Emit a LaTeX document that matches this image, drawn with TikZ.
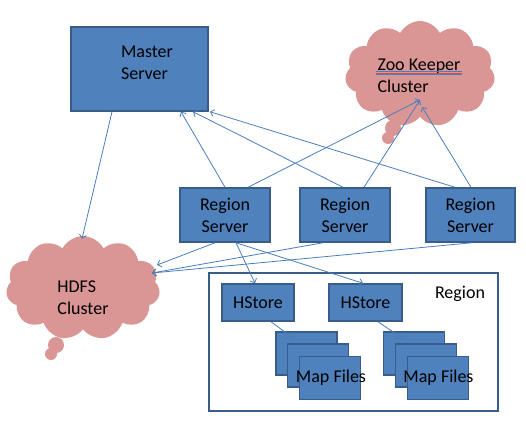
\documentclass[tikz,border=0pt]{standalone}
\usepackage{fontspec}
\setmainfont{Carlito}
\usetikzlibrary{shapes.symbols,shapes.misc,arrows.meta}
\definecolor{boxfill}{HTML}{4F81BD}
\definecolor{boxline}{HTML}{385D8A}
\definecolor{cloudfill}{HTML}{D99694}
\definecolor{arrowc}{HTML}{4A7EBB}
\definecolor{spellred}{HTML}{D05050}
\begin{document}
\begin{tikzpicture}[x=1pt,y=-1pt,
  box/.style={draw=boxline,line width=1.5pt,fill=boxfill,inner sep=0pt},
  mapfile/.style={chamfered rectangle,chamfered rectangle corners=north east,
    chamfered rectangle xsep=8pt,chamfered rectangle ysep=8pt,
    draw=boxline,line width=1.5pt,fill=boxfill,inner sep=0pt,
    minimum width=61pt,minimum height=43pt},
  cloudnode/.style={cloud,cloud puffs=11,cloud puff arc=125,aspect=1.5,
    fill=cloudfill,inner sep=0pt},
  arr/.style={draw=arrowc,line width=0.8pt,-{Straight Barb[length=3.5pt,width=7pt]}},
  txt/.style={font=\fontsize{18}{22}\selectfont,align=left,text=black,inner sep=0pt}]
\useasboundingbox (0,0) rectangle (526,423);

% clouds
\node[cloudnode,minimum width=154pt,minimum height=104pt] (hdfs) at (83,288) {};
\fill[cloudfill] (56,345) circle[radius=8];
\fill[cloudfill] (51,354) circle[radius=6];
\node[txt] (hdfstxt) at (83,298) {HDFS\\Cluster};

\node[cloudnode,minimum width=150pt,minimum height=106pt] (zk) at (420,74) {};
\fill[cloudfill] (393,128) circle[radius=8];
\fill[cloudfill] (388,138) circle[radius=6];
\node[txt] (zktxt) at (419,76) {Zoo Keeper\\Cluster};
\draw[arrowc,line width=0.7pt] (376,71.8) -- (462,71.8);
\draw[spellred,line width=0.5pt] (376,73) -- (462,73);
\draw[arrowc,line width=0.7pt] (376,74.3) -- (462,74.3);

% master
\node[box,minimum width=137pt,minimum height=84pt] (master) at (139.5,69) {};
\node[txt] (mastertxt) at (147,63) {Master\\Server};

% region servers
\node[box,txt,align=center,minimum width=90pt,minimum height=54pt] (rs1) at (225,215) {Region\\Server};
\node[box,txt,align=center,minimum width=90pt,minimum height=54pt] (rs2) at (345,215) {Region\\Server};
\node[box,txt,align=center,minimum width=89pt,minimum height=54pt] (rs3) at (470.5,215) {Region\\Server};

% region box
\node[draw=boxline,line width=1.5pt,inner sep=0pt,minimum width=289pt,minimum height=138pt] (region) at (353.5,342) {};
\node[txt] (regiontxt) at (460,294) {Region};

\node[box,txt,minimum width=72pt,minimum height=37pt] (hs1) at (258,302.5) {HStore};
\node[box,txt,minimum width=73pt,minimum height=37pt] (hs2) at (365.5,302.5) {HStore};

\node[mapfile] (mf1a) at (306.5,353.5) {};
\node[mapfile] (mf1b) at (318,365.5) {};
\node[mapfile] (mf1c) at (330,378) {};
\node[txt] (mf1txt) at (331,378) {Map Files};
\node[mapfile] (mf2a) at (414,353.5) {};
\node[mapfile] (mf2b) at (426,365.5) {};
\node[mapfile] (mf2c) at (438,378) {};
\node[txt] (mf2txt) at (438.5,378) {Map Files};

% connectors
\draw[arr] ([xshift=-27.5pt]master.south) -- ([xshift=-1pt,yshift=-3pt]hdfs.north);
\draw[arr] (rs1.north) -- ([xshift=41.5pt]master.south);
\draw[arr] ([xshift=-2pt]rs2.north) -- ([xshift=53.5pt]master.south);
\draw[arr] ([xshift=-15.5pt]rs3.north) -- ([xshift=70.5pt]master.south);
\draw[arr] ([xshift=23pt]rs1.north) -- ([xshift=0pt,yshift=-26pt]zk.center);
\draw[arr] ([xshift=19pt]rs2.north) -- ([xshift=0pt,yshift=-26pt]zk.center);
\draw[arr] ([xshift=0.5pt]rs3.north) -- ([xshift=2pt,yshift=-33pt]zk.center);
\draw[arr] ([xshift=-10pt]rs1.south) -- ([xshift=74pt,yshift=23pt]hdfs.center);
\draw[arr] ([xshift=-22pt]rs2.south) -- ([xshift=69pt,yshift=15pt]hdfs.center);
\draw[arr] ([xshift=1.5pt]rs3.south) -- ([xshift=69pt,yshift=15pt]hdfs.center);
\draw[arr] ([xshift=11pt]rs1.south) -- ([xshift=-3pt]hs1.north);
\draw[arr] ([xshift=11pt]rs1.south) -- ([xshift=-2.5pt]hs2.north);
\draw[arr] ([xshift=13pt]hs1.south) -- ([xshift=-13.5pt,yshift=15.5pt]mf1a.center);
\draw[arr] ([xshift=12.5pt]hs2.south) -- ([xshift=-12pt,yshift=15.5pt]mf2a.center);
\end{tikzpicture}
\end{document}
